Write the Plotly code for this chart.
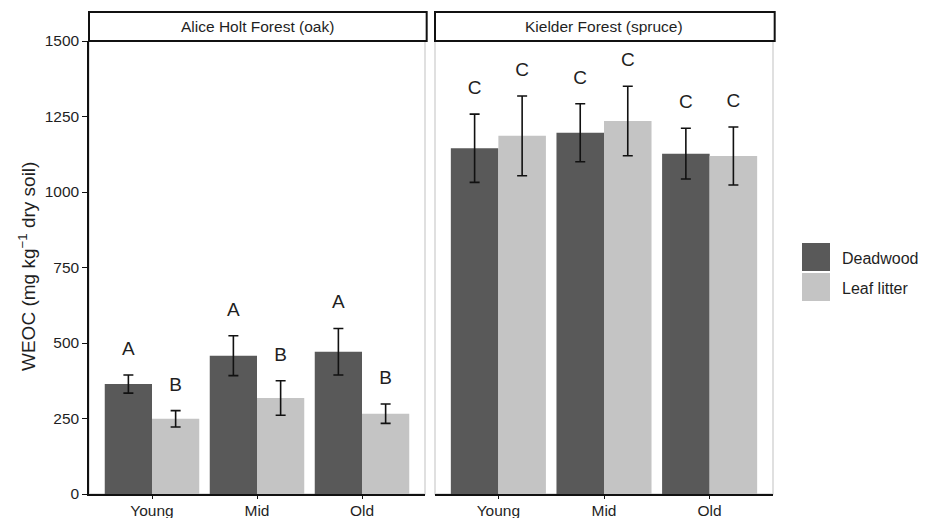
import plotly.graph_objects as go

# ---------------- data ----------------
stages = ["Young", "Mid", "Old"]
sites = ["Alice Holt Forest (oak)", "Kielder Forest (spruce)"]
series = ["Deadwood", "Leaf litter"]

# mean WEOC and standard error (mg kg-1 dry soil)
alice_deadwood = [364, 458, 471]
alice_deadwood_se = [30, 66, 77]
alice_leaf = [249, 318, 266]
alice_leaf_se = [27, 57, 32]

kielder_deadwood = [1145, 1196, 1127]
kielder_deadwood_se = [113, 96, 84]
kielder_leaf = [1186, 1235, 1119]
kielder_leaf_se = [132, 115, 96]

alice_letters_deadwood = ["A", "A", "A"]
alice_letters_leaf = ["B", "B", "B"]
kielder_letters_deadwood = ["C", "C", "C"]
kielder_letters_leaf = ["C", "C", "C"]

y_ticks = [0, 250, 500, 750, 1000, 1250, 1500]

# ---------------- style ----------------
# the page body has an 8px default margin, so the figure is sized to fit the window
OFF = 8
W, H = 932 - OFF, 518 - OFF
colors = {"Deadwood": "#595959", "Leaf litter": "#C4C4C4"}
FONT = "Arial, Liberation Sans, sans-serif"
TXT = "#1f1f1f"
LABEL_PAD = 82

site_data = [
    {"means": [alice_deadwood, alice_leaf], "se": [alice_deadwood_se, alice_leaf_se],
     "letters": [alice_letters_deadwood, alice_letters_leaf], "xa": "x", "ya": "y"},
    {"means": [kielder_deadwood, kielder_leaf], "se": [kielder_deadwood_se, kielder_leaf_se],
     "letters": [kielder_letters_deadwood, kielder_letters_leaf], "xa": "x2", "ya": "y2"},
]

fig = go.Figure()
for sd in site_data:
    for k, name in enumerate(series):
        fig.add_trace(go.Bar(
            x=stages, y=sd["means"][k], name=name,
            marker=dict(color=colors[name], line=dict(width=0)),
            error_y=dict(type="data", array=sd["se"][k], visible=True,
                         color="#111111", thickness=1.6, width=5),
            xaxis=sd["xa"], yaxis=sd["ya"], showlegend=False, hoverinfo="skip",
        ))
    for k, name in enumerate(series):
        ylab = [m + s + LABEL_PAD for m, s in zip(sd["means"][k], sd["se"][k])]
        fig.add_trace(go.Scatter(
            x=stages, y=ylab, mode="text", text=sd["letters"][k],
            textposition="middle center",
            textfont=dict(size=19, color=TXT, family=FONT),
            xaxis=sd["xa"], yaxis=sd["ya"], showlegend=False, hoverinfo="skip",
        ))

# window-pixel -> paper fraction
px_x = lambda v: (v - OFF) / W
px_y = lambda v: 1 - (v - OFF) / H

ydom = [px_y(494), px_y(41)]
xdom1 = [px_x(89), px_x(425)]
xdom2 = [px_x(435), px_x(773)]

xcommon = dict(type="category", categoryorder="array", categoryarray=stages,
               range=[-0.6, 2.6], showline=True, linecolor="#111111", linewidth=1.5,
               ticks="outside", ticklen=3, tickwidth=1.3, tickcolor="#111111",
               ticklabelstandoff=-1,
               tickfont=dict(size=15.5, color=TXT, family=FONT),
               showgrid=False, zeroline=False, fixedrange=True, automargin=False)

fig.update_layout(
    width=W, height=H, autosize=False,
    margin=dict(l=0, r=0, t=0, b=0, pad=0, autoexpand=False),
    paper_bgcolor="white", plot_bgcolor="white",
    barmode="group", bargap=0.1, bargroupgap=0,
    scattermode="group", scattergap=0.1,
    font=dict(family=FONT, color=TXT),
    xaxis=dict(domain=xdom1, anchor="y", **xcommon),
    xaxis2=dict(domain=xdom2, anchor="y2", **xcommon),
    yaxis=dict(domain=ydom, anchor="x", range=[0, 1500], tickvals=y_ticks,
               showline=True, linecolor="#111111", linewidth=1.5,
               ticks="outside", ticklen=5, tickwidth=1.3, tickcolor="#111111",
               tickfont=dict(size=15.5, color=TXT, family=FONT),
               showgrid=False, zeroline=False, fixedrange=True, automargin=False),
    yaxis2=dict(domain=ydom, anchor="x2", matches="y", range=[0, 1500],
                showticklabels=False, ticks="", showline=False,
                showgrid=False, zeroline=False, fixedrange=True, automargin=False),
)

shapes = []
annotations = []
# panel borders (light grey) and strips
for i, (xa, site) in enumerate(zip(["x", "x2"], sites)):
    shapes.append(dict(type="rect", xref=f"{xa} domain", yref="paper",
                       x0=0, x1=1, y0=ydom[0], y1=ydom[1],
                       line=dict(color="#D6D6D6", width=1.5), layer="below"))
    shapes.append(dict(type="rect", xref=f"{xa} domain", yref="paper",
                       x0=0, x1=1.005, y0=px_y(41), y1=px_y(12),
                       line=dict(color="#111111", width=2), fillcolor="white"))
    annotations.append(dict(text=site, xref=f"{xa} domain", yref="paper",
                            x=0.5, y=px_y(27), showarrow=False,
                            xanchor="center", yanchor="middle",
                            font=dict(size=15.5, color=TXT, family=FONT)))

# y-axis title
annotations.append(dict(text="WEOC (mg kg<sup>\u22121</sup> dry soil)", xref="paper", yref="paper",
                        x=px_x(27), y=px_y(267), textangle=-90, showarrow=False,
                        xanchor="center", yanchor="middle",
                        font=dict(size=19, color=TXT, family=FONT)))

# legend (manual, ggplot-like keys)
key_tops = [243, 273]
for name, top in zip(series, key_tops):
    shapes.append(dict(type="rect", xref="paper", yref="paper",
                       x0=px_x(802), x1=px_x(830), y0=px_y(top + 28), y1=px_y(top),
                       line=dict(width=0), fillcolor=colors[name]))
    annotations.append(dict(text=name, xref="paper", yref="paper",
                            x=px_x(840), y=px_y(top + 15), showarrow=False,
                            xanchor="left", yanchor="middle",
                            font=dict(size=16, color=TXT, family=FONT)))

fig.update_layout(shapes=shapes, annotations=annotations)
fig.write_html("out.html")
